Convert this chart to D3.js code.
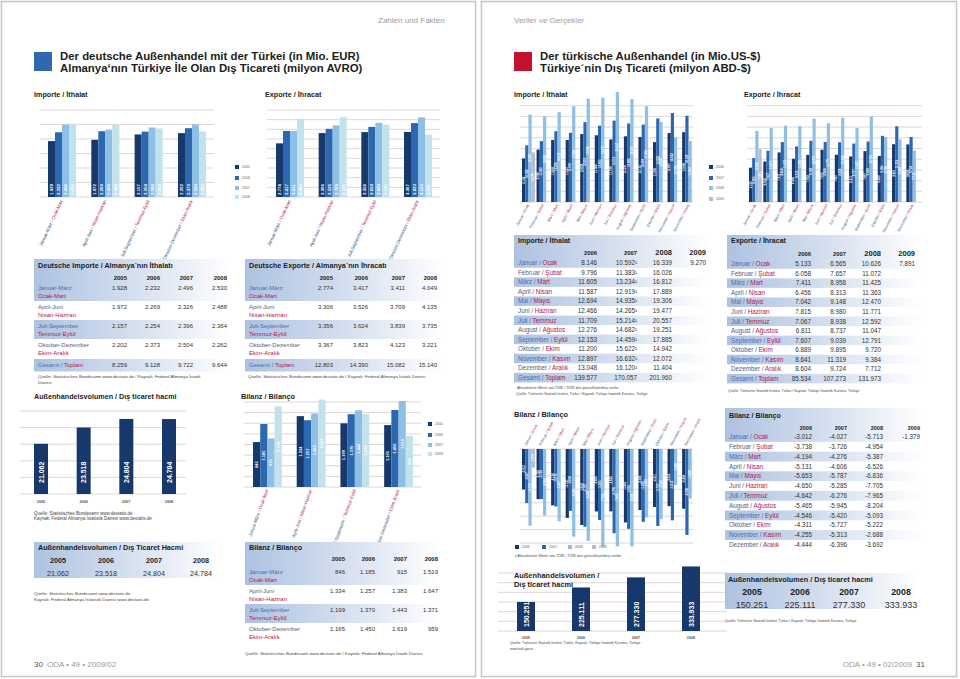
<!DOCTYPE html>
<html><head><meta charset="utf-8">
<script src="https://cdn.jsdelivr.net/npm/d3@7"></script>
<style>body{margin:0;background:#fff} svg{display:block;font-family:'Liberation Sans',Arial,Helvetica,sans-serif}</style>
</head><body>
<script>
// ---------------- DATA ----------------
const deYears = ["2005","2006","2007","2008"];
const deQuartersDE = ["Januar-März","April-Juni","Juli-September","Oktober-Dezember"];
const deQuartersTR = ["Ocak-Mart","Nisan-Haziran","Temmuz-Eylül","Ekim-Aralık"];
// rows = quarters, columns = years 2005..2008
const deImport = [[1928,2232,2496,2530],[1972,2269,2326,2488],[2157,2254,2396,2364],[2202,2373,2504,2262]];
const deImportTotal = [8259,9128,9722,9644];
const deExport = [[2774,3417,3411,4049],[3306,3526,3709,4135],[3356,3624,3839,3735],[3367,3823,4123,3221]];
const deExportTotal = [12803,14390,15082,15140];
const deVolume = [21062,23518,24804,24784];
const deBalance = [[846,1185,915,1519],[1334,1257,1383,1647],[1199,1370,1443,1371],[1165,1450,1619,959]];

const trYears = ["2006","2007","2008","2009"];
const monthsDE = ["Januar","Februar","März","April","Mai","Juni","Juli","August","September","Oktober","November","Dezember"];
const monthsTR = ["Ocak","Şubat","Mart","Nisan","Mayıs","Haziran","Temmuz","Ağustos","Eylül","Ekim","Kasım","Aralık"];
const trImport2006 = [8146,9796,11605,11587,12694,12466,11709,12276,12153,11200,12897,13048];
const trImport2007 = [10592,11383,13234,12919,14935,14265,15214,14682,14459,15622,16632,16120];
const trImport2008 = [16339,16026,16812,17889,19306,19477,20557,19251,17885,14942,12072,11404];
const trImport2009 = [9270];
const trImportTotal = [139577,170057,201960];
const trExport2006 = [5133,6058,7411,6456,7042,7815,7067,6811,7607,6889,8641,8604];
const trExport2007 = [6565,7657,8958,8313,9148,8980,8938,8737,9039,9895,11319,9724];
const trExport2008 = [10626,11072,11425,11363,12470,11771,12592,11047,12791,9720,9384,7712];
const trExport2009 = [7891];
const trExportTotal = [85534,107273,131973];
const trBalance2006 = [-3012,-3738,-4194,-5131,-5653,-4650,-4642,-5465,-4546,-4311,-4255,-4444];
const trBalance2007 = [-4027,-3726,-4276,-4606,-5787,-5285,-6276,-5945,-5420,-5727,-5313,-6396];
const trBalance2008 = [-5713,-4954,-5387,-6526,-6836,-7705,-7965,-8204,-5093,-5222,-2688,-3692];
const trBalance2009 = [-1379];
const trVolumeYears = ["2005","2006","2007","2008"];
const trVolume = [150251,225111,277330,333933];

// ---------------- SETUP ----------------
const loc = d3.formatLocale({decimal:",",thousands:".",grouping:[3],currency:["","€"],minus:"-"});
const fmt = loc.format(",d");
const C = {navy:"#17386a", mid:"#2b68b0", light:"#8ec0e6", pale:"#c3e3ec", lav:"#b7bcd6"};
const GRID = "#dccaca";
const BLUE_TXT = "#4a6fae", GRAY_TXT = "#55607a", RED_TXT = "#b5164e";

const svg = d3.select("body").append("svg").attr("width",960).attr("height",679);
const defs = svg.append("defs");
const grad = defs.append("linearGradient").attr("id","bandGrad").attr("x1","0").attr("x2","1").attr("y1","0").attr("y2","0");
grad.append("stop").attr("offset","0%").attr("stop-color","#adc2e1");
grad.append("stop").attr("offset","55%").attr("stop-color","#d8e2f0");
grad.append("stop").attr("offset","100%").attr("stop-color","#ffffff");

svg.append("rect").attr("width",960).attr("height",679).attr("fill","#fff");
// page frames
svg.append("rect").attr("x",1.5).attr("y",1.5).attr("width",474).attr("height",675).attr("fill","none").attr("stroke","#c4c4c4").attr("stroke-width",1.5);
svg.append("rect").attr("x",481.5).attr("y",1.5).attr("width",475).attr("height",675).attr("fill","none").attr("stroke","#c4c4c4").attr("stroke-width",1.5);

function T(g,x,y,s,size,o={}){
  const t=g.append("text").attr("x",x).attr("y",y).attr("font-size",size).attr("fill",o.fill||"#1d1d1d").text(s);
  if(o.bold) t.attr("font-weight","bold");
  if(o.anchor) t.attr("text-anchor",o.anchor);
  return t;
}
function band(g,x,y,w,h){ g.append("rect").attr("x",x).attr("y",y).attr("width",w).attr("height",h).attr("fill","url(#bandGrad)"); }

function grouped(g,o){
  const x0=d3.scaleBand().domain(d3.range(o.nCats)).range(o.xRange).paddingInner(o.pad);
  const x1=d3.scaleBand().domain(d3.range(o.series.length)).range([0,x0.bandwidth()]);
  const y=o.y, y0=y(0);
  g.append("g").selectAll("line").data(o.grid).join("line")
    .attr("x1",o.gridX[0]).attr("x2",o.gridX[1]).attr("y1",d=>y(d)).attr("y2",d=>y(d))
    .attr("stroke",GRID).attr("stroke-width",0.8);
  const flat=o.series.flatMap((s,si)=>s.map((v,ci)=>({si,ci,v})));
  g.append("g").selectAll("rect").data(flat).join("rect")
    .attr("x",d=>x0(d.ci)+x1(d.si)).attr("width",x1.bandwidth()-(o.gap||0))
    .attr("y",d=>Math.min(y(d.v),y0)).attr("height",d=>Math.abs(y(d.v)-y0))
    .attr("fill",d=>o.colors[d.si]);
  if(o.labelSize){
    g.append("g").selectAll("text").data(flat).join("text")
      .attr("transform",d=>{
        const cx=x0(d.ci)+x1(d.si)+(x1.bandwidth()-(o.gap||0))/2+o.labelSize*0.35;
        const ly=o.labelPos==="bottom"? y0-o.labelOff : (y(d.v)+y0)/2;
        return `translate(${cx},${ly}) rotate(-90)`;})
      .attr("text-anchor",o.labelPos==="bottom"?"start":"middle")
      .attr("font-size",o.labelSize).attr("font-weight","bold").attr("fill","#fff").text(d=>fmt(d.v));
  }
  return {x0,x1};
}
function catLabels(g,x0,de,tr,o){
  de.forEach((d,i)=>{
    const x=x0(i)+x0.bandwidth()/2+(o.dx||0);
    const t=g.append("text").attr("transform",`translate(${x},${o.y}) rotate(${o.rot})`)
      .attr("text-anchor",o.anchor).attr("font-size",o.size);
    t.append("tspan").attr("fill","#35537f").text(d+" / ");
    t.append("tspan").attr("fill",RED_TXT).text(tr[i]);
  });
}
function legendV(g,x,ys,labels,colors,size){
  labels.forEach((l,i)=>{
    g.append("rect").attr("x",x).attr("y",ys[i]-2).attr("width",4).attr("height",4).attr("fill",colors[i]);
    T(g,x+7,ys[i]+1.3,l,size,{fill:"#666"});
  });
}
function simpleBars(g,o){
  const x=d3.scaleBand().domain(o.cats).range(o.xRange).paddingInner(o.pad);
  const y=o.y, base=y.range()[0];
  g.append("g").selectAll("line").data(o.grid).join("line")
    .attr("x1",o.gridX[0]).attr("x2",o.gridX[1]).attr("y1",d=>y(d)).attr("y2",d=>y(d))
    .attr("stroke",GRID).attr("stroke-width",0.8);
  g.append("g").selectAll("rect").data(o.values).join("rect")
    .attr("x",(d,i)=>x(o.cats[i])).attr("width",x.bandwidth())
    .attr("y",d=>y(d)).attr("height",d=>base-y(d)).attr("fill",C.navy);
  g.append("g").selectAll("text").data(o.values).join("text")
    .attr("transform",(d,i)=>`translate(${x(o.cats[i])+x.bandwidth()/2+o.labelSize*0.36},${base-o.labelOff}) rotate(-90)`)
    .attr("font-size",o.labelSize).attr("font-weight","bold").attr("fill","#fff").text(d=>fmt(d));
  g.append("g").selectAll("text.yr").data(o.cats).join("text").attr("class","yr")
    .attr("x",d=>x(d)+x.bandwidth()/2).attr("y",o.yearY).attr("text-anchor","middle")
    .attr("font-size",3.8).attr("font-weight","bold").attr("fill","#555").text(d=>d);
  return x;
}
function quarterTable(o){
  const g=svg.append("g");
  o.bands.forEach(b=>band(g,o.x,b[0],o.w,b[1]));
  T(g,o.x+4,o.titleY,o.title,7.2,{bold:true});
  deYears.forEach((yr,j)=>T(g,o.cols[j],o.yearsY,yr,6,{bold:true,anchor:"end"}));
  o.data.forEach((row,i)=>{
    const yy=o.rowY[i];
    T(g,o.x+4,yy,deQuartersDE[i],6,{fill:i%2===0?BLUE_TXT:GRAY_TXT});
    T(g,o.x+4,yy+7.4,deQuartersTR[i],6,{fill:RED_TXT});
    row.forEach((v,j)=>T(g,o.cols[j],yy,fmt(v),6,{anchor:"end",fill:"#333"}));
  });
  if(o.total){
    const t=g.append("text").attr("x",o.x+4).attr("y",o.totalY).attr("font-size",6);
    t.append("tspan").attr("fill",BLUE_TXT).text("Gesamt / ");
    t.append("tspan").attr("fill",RED_TXT).text("Toplam");
    o.total.forEach((v,j)=>T(g,o.cols[j],o.totalY,fmt(v),6,{anchor:"end",fill:"#333"}));
  }
  return g;
}
function monthTable(o){
  const g=svg.append("g");
  const rc=i=>o.row0+i*o.pitch;
  const nRows=12+(o.total?1:0);
  band(g,o.x,o.bandTop,o.w,rc(0)+o.pitch/2-o.bandTop);
  for(let i=2;i<nRows;i+=2) band(g,o.x,rc(i)-o.pitch/2,o.w,o.pitch);
  T(g,o.x+4,o.titleY,o.title,7,{bold:true});
  trYears.forEach((yr,j)=>T(g,o.cols[j],o.yearsY,yr,o.yearSizes[j],{bold:true,anchor:"end"}));
  monthsDE.forEach((m,i)=>{
    const t=g.append("text").attr("x",o.x+4).attr("y",rc(i)+2.2).attr("font-size",6.3);
    t.append("tspan").attr("fill",i%2===0?BLUE_TXT:GRAY_TXT).text(m+" / ");
    t.append("tspan").attr("fill",RED_TXT).text(monthsTR[i]);
  });
  o.data.forEach((col,j)=>col.forEach((v,i)=>
    T(g,o.cols[j],rc(i)+2.2,fmt(v)+(o.sup===j?"¹":""),6.3,{anchor:"end",fill:"#333"})));
  if(o.total){
    const yy=rc(12)+2.2;
    const t=g.append("text").attr("x",o.x+4).attr("y",yy).attr("font-size",6.3);
    t.append("tspan").attr("fill",BLUE_TXT).text("Gesamt / ");
    t.append("tspan").attr("fill",RED_TXT).text("Toplam");
    o.total.forEach((v,j)=>T(g,o.cols[j],yy,fmt(v),6.3,{anchor:"end",fill:"#333"}));
  }
  return g;
}

// ================= LEFT PAGE =================
const L=svg.append("g");
T(L,378,22.5,"Zahlen und Fakten",8,{fill:"#9c9c9c"});
L.append("rect").attr("x",34).attr("y",52).attr("width",18).attr("height",19).attr("fill","#2f68b0");
T(L,60,59.5,"Der deutsche Außenhandel mit der Türkei (in Mio. EUR)",11.4,{bold:true});
T(L,60,72,"Almanya‘nın Türkiye İle Olan Dış Ticareti (milyon AVRO)",11.4,{bold:true});
T(L,34,97,"Importe / İthalat",7.2,{bold:true});
T(L,265,97,"Exporte / İhracat",7.2,{bold:true});

const deCols=[C.navy,C.mid,C.light,C.pale];
const byYear = m => deYears.map((_,j)=>m.map(r=>r[j]));
// import chart
const gi=grouped(L.append("g"),{nCats:4,series:byYear(deImport),colors:deCols,xRange:[48,206],pad:0.353,
  y:d3.scaleLinear().domain([0,3000]).range([197,110]),grid:d3.range(0,3001,500),gridX:[40,214],
  labelSize:4.4,labelPos:"bottom",labelOff:2});
catLabels(L,gi.x0,deQuartersDE,deQuartersTR,{y:201,rot:-65,anchor:"end",size:4.5,dx:1});
// export chart
const ge=grouped(L.append("g"),{nCats:4,series:byYear(deExport),colors:deCols,xRange:[276,432],pad:0.344,
  y:d3.scaleLinear().domain([0,4500]).range([197,110]),grid:d3.range(0,4501,500),gridX:[267,440],
  labelSize:4.4,labelPos:"bottom",labelOff:2});
catLabels(L,ge.x0,deQuartersDE,deQuartersTR,{y:201,rot:-65,anchor:"end",size:4.5,dx:1});
legendV(L,235,[167,178,188,197],deYears,deCols,3.6);

quarterTable({x:34,w:198,title:"Deutsche Importe / Almanya´nın İthalatı",titleY:267.5,yearsY:279.5,
  rowY:[290.3,309.3,328.3,347.3],totalY:367.3,bands:[[259,42],[320,19],[359,12.5]],cols:[127,160,193,227],
  data:deImport,total:deImportTotal});
T(L,38,377.5,"Quelle: Statistisches Bundesamt www.destatis.de / Kaynak: Federal Almanya İstatik",4.4,{fill:"#444"});
T(L,38,383.5,"Dairesi",4.4,{fill:"#444"});
quarterTable({x:245,w:200,title:"Deutsche Exporte / Almanya´nın İhracatı",titleY:267.5,yearsY:279.5,
  rowY:[290.3,309.3,328.3,347.3],totalY:367.3,bands:[[259,42],[320,19],[359,12.5]],cols:[333,368,405,437],
  data:deExport,total:deExportTotal});
T(L,248,377.5,"Quelle: Statistisches Bundesamt www.destatis.de / Kaynak: Federal Almanya İstatik Dairesi",4.4,{fill:"#444"});

T(L,34,398.5,"Außenhandelsvolumen / Dış ticaret hacmi",7.2,{bold:true});
T(L,241,398.5,"Bilanz / Bilanço",7.3,{bold:true});

// volume chart (left)
simpleBars(L.append("g"),{cats:deYears,values:deVolume,xRange:[34,176],pad:0.672,
  y:d3.scaleLinear().domain([13500,26000]).range([494,411]),grid:d3.range(13500,26001,2500),gridX:[20,186],
  labelSize:7,labelOff:11,yearY:502.5});
T(L,34,514.5,"Quelle: Statistisches Bundesamt www.destatis.de",4.5,{fill:"#444"});
T(L,34,520,"Kaynak: Federal Almanya İstatistik Dairesi www.destatis.de",4.5,{fill:"#444"});

// balance chart (left)
const gb=grouped(L.append("g"),{nCats:4,series:byYear(deBalance),colors:deCols,xRange:[253,413],pad:0.34,
  y:d3.scaleLinear().domain([0,1600]).range([487,402]),grid:d3.range(0,1601,200),gridX:[244,421],
  labelSize:4,labelPos:"mid"});
catLabels(L,gb.x0,deQuartersDE,deQuartersTR,{y:490,rot:-70,anchor:"end",size:4.5,dx:1});
legendV(L,428,[424,435,445,454],deYears,deCols,3.6);

// volume table (left)
{
  const g=L.append("g");
  band(g,34,542,186,36);
  T(g,38,550,"Außenhandelsvolumen / Dış Ticaret Hacmi",7.2,{bold:true});
  const cx=[58,106,154,201];
  deYears.forEach((yr,j)=>T(g,cx[j],562.7,yr,7.2,{bold:true,anchor:"middle"}));
  deVolume.forEach((v,j)=>T(g,cx[j],575.7,fmt(v),7.2,{anchor:"middle",fill:"#333"}));
  T(g,34,594.5,"Quelle: Statistisches Bundesamt www.destatis.de",4.4,{fill:"#444"});
  T(g,34,600.5,"Kaynak: Federal Almanya İstatistik Dairesi www.destatis.de",4.4,{fill:"#444"});
}
quarterTable({x:245,w:195,title:"Bilanz / Bilanço",titleY:550,yearsY:561.3,
  rowY:[574.3,593.3,612.3,631.3],bands:[[542,43],[604,19]],cols:[345,375,407,438],data:deBalance});
T(L,245,654.5,"Quelle: Statistisches Bundesamt www.destatis.de / Kaynak: Federal Almanya İstatik Dairesi",4.4,{fill:"#444"});

T(L,34,667,"30",8,{fill:"#555"});
T(L,47,667,"ODA • 49 • 2009/02",8,{fill:"#9a9a9a"});

// ================= RIGHT PAGE =================
const R=svg.append("g");
T(R,514,22.5,"Veriler ve Gerçekler",8,{fill:"#9c9c9c"});
R.append("rect").attr("x",514).attr("y",52).attr("width",18).attr("height",19).attr("fill","#c3112f");
T(R,540,59.5,"Der türkische Außenhandel (in Mio.US-$)",11.4,{bold:true});
T(R,540,72,"Türkiye´nin Dış Ticareti (milyon ABD-$)",11.4,{bold:true});
T(R,514,97,"Importe / İthalat",7.2,{bold:true});
T(R,744,97,"Exporte / İhracat",7.2,{bold:true});

const trCols=[C.navy,C.mid,C.light,C.lav];
const ri=grouped(R.append("g"),{nCats:12,series:[trImport2006,trImport2007,trImport2008,trImport2009],colors:trCols,
  xRange:[522,695],pad:0.115,y:d3.scaleLinear().domain([0,18000]).range([202,105.7]),
  grid:d3.range(0,18001,2000),gridX:[520,693],labelSize:2.8,labelPos:"mid"});
catLabels(R,ri.x0,monthsDE,monthsTR,{y:205,rot:-62,anchor:"end",size:3.8,dx:1});
const rx=grouped(R.append("g"),{nCats:12,series:[trExport2006,trExport2007,trExport2008,trExport2009],colors:trCols,
  xRange:[749,919],pad:0.115,y:d3.scaleLinear().domain([0,14400]).range([202,105.7]),
  grid:d3.range(0,14401,1600),gridX:[747,922],labelSize:2.8,labelPos:"mid"});
catLabels(R,rx.x0,monthsDE,monthsTR,{y:205,rot:-62,anchor:"end",size:3.8,dx:1});
legendV(R,709,[167,178,188,199],trYears,trCols,3.6);

monthTable({x:514,w:196,bandTop:235,title:"Importe / İthalat",titleY:242.5,yearsY:255,row0:263,pitch:9.55,
  cols:[597,637,672,706],yearSizes:[5.8,5.8,7.5,7.5],
  data:[trImport2006,trImport2007,trImport2008,trImport2009],sup:1,total:trImportTotal});
T(R,516,388.5,"¹Aktualisierte Werte von TÜİK / TÜİK´den güncelleştirilmiş veriler",3.6,{fill:"#444"});
T(R,516,394.5,"Quelle: Türkische Statistik Institut, Türkei / Kaynak: Türkiye İstatistik Kurumu, Türkiye",3.5,{fill:"#444"});
monthTable({x:727,w:195,bandTop:235,title:"Exporte / İhracat",titleY:242.5,yearsY:255.5,row0:264,pitch:9.55,
  cols:[811,846,881,915],yearSizes:[5.8,5.8,7.5,7.5],
  data:[trExport2006,trExport2007,trExport2008,trExport2009],total:trExportTotal});
T(R,728,391.5,"Quelle: Türkische Statistik Institut, Türkei / Kaynak: Türkiye İstatistik Kurumu, Türkiye",3.5,{fill:"#444"});

// balance chart (right)
T(R,514,417,"Bilanz / Bilanço",7.3,{bold:true});
const rb=grouped(R.append("g"),{nCats:12,series:[trBalance2006,trBalance2007,trBalance2008,trBalance2009],colors:trCols,
  xRange:[522,695],pad:0.115,y:d3.scaleLinear().domain([0,-7250]).range([449,546.4]).clamp(true),
  grid:d3.range(0,-7001,-1000),gridX:[520,693],labelSize:2.8,labelPos:"mid"});
catLabels(R,rb.x0,monthsDE,monthsTR,{y:446,rot:-62,anchor:"start",size:3.8,dx:-2});
{
  const xs=[515,542,568,592], labs=["2006","2007¹","2008","2009"];
  labs.forEach((l,i)=>{
    R.append("rect").attr("x",xs[i]).attr("y",545).attr("width",4).attr("height",4).attr("fill",trCols[i]);
    T(R,xs[i]+7,548.3,l,3.5,{fill:"#666"});
  });
  T(R,514,556.5,"¹) Aktualisierte Werte von TÜİK / TÜİK´den güncelleştirilmiş veriler",3.7,{fill:"#444"});
}
monthTable({x:725,w:198,bandTop:408,title:"Bilanz / Bilanço",titleY:417.5,yearsY:429.5,row0:437,pitch:9.8,
  cols:[812,847,883,920],yearSizes:[5.5,5.5,5.5,5.5],
  data:[trBalance2006,trBalance2007,trBalance2008,trBalance2009]});

// volume chart (right)
{
  const g=R.append("g");
  simpleBars(g,{cats:trVolumeYears,values:trVolume,xRange:[517,700],pad:0.673,
    y:d3.scaleLinear().domain([0,300000]).range([631,573]),grid:d3.range(0,300001,50000),gridX:[498,727],
    labelSize:7,labelOff:4,yearY:638.5});
  T(g,514,578,"Außenhandelsvolumen /",7.4,{bold:true});
  T(g,514,587,"Dış ticaret hacmi",7.4,{bold:true});
  T(g,510,643.5,"Quelle: Türkische Statistik Institut, Türkei, Kaynak: Türkiye İstatistik Kurumu, Türkiye",3.5,{fill:"#444"});
  T(g,510,649.5,"www.tuik.gov.tr",3.5,{fill:"#444"});
}
{
  const g=R.append("g");
  band(g,725,573,195,36);
  T(g,728,581.5,"Außenhandelsvolumen / Dış ticaret hacmi",7.3,{bold:true});
  const cx=[752,800,849,901];
  trVolumeYears.forEach((yr,j)=>T(g,cx[j],595,yr,8.8,{bold:true,anchor:"middle"}));
  trVolume.forEach((v,j)=>T(g,cx[j],607.5,fmt(v),9,{anchor:"middle",fill:"#333"}));
  T(g,725,621.5,"Quelle: Türkische Statistik Institut, Türkei / Kaynak: Türkiye İstatistik Kurumu, Türkiye",3.5,{fill:"#444"});
}
T(R,912,667,"ODA • 49 • 02/2009",8,{fill:"#9a9a9a",anchor:"end"});
T(R,925,667,"31",8,{fill:"#555",anchor:"end"});
</script>
</body></html>
